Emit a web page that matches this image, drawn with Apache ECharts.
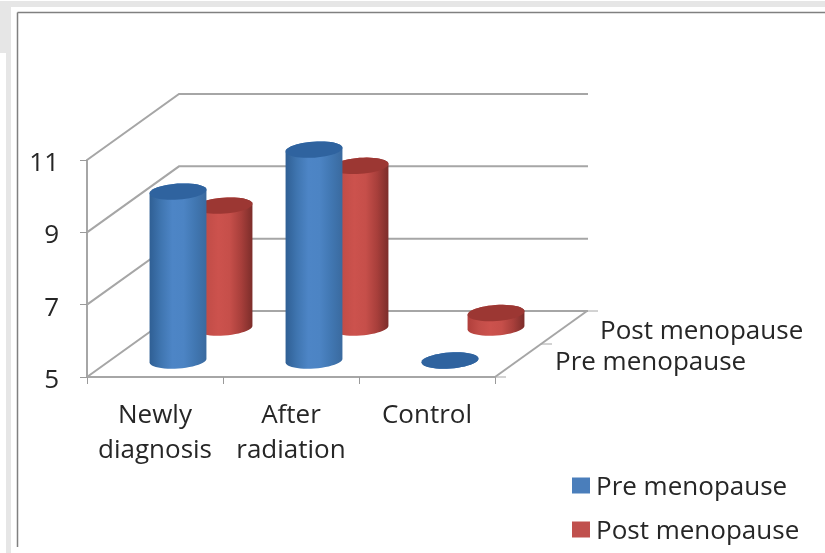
<!DOCTYPE html>
<html><head><meta charset="utf-8">
<style>html,body{margin:0;padding:0;background:#fff}#c{width:825px;height:553px}</style>
<script src="https://cdn.jsdelivr.net/npm/echarts@6/dist/echarts.min.js"></script>
</head><body><div id="c"></div>
<script>
const categories = ['Newly\ndiagnosis', 'After\nradiation', 'Control'];
const preMenopause = [9.67, 10.83, 5.0];
const postMenopause = [8.37, 9.47, 5.4];
const valueTicks = [5, 7, 9, 11];
const seriesNames = ['Pre menopause', 'Post menopause'];

const FONT = '"Open Sans"';
const TEXT = '#262626';
const DX = 92, DY = -66;
const RA = 28.5, RB = 8, TILT = -4 * Math.PI / 180;

function ell(cx, cy, t) {
  return [cx + RA * Math.cos(t) * Math.cos(TILT) - RB * Math.sin(t) * Math.sin(TILT),
          cy + RA * Math.cos(t) * Math.sin(TILT) + RB * Math.sin(t) * Math.cos(TILT)];
}
function cyl(params, api, depth, side, top) {
  const i = api.value(0), v = api.value(1);
  const cT = api.coord([i, v]), cB = api.coord([i, 5]);
  const ox = DX * depth, oy = DY * depth;
  const cx = cT[0] + ox, yT = cT[1] + oy, yB = cB[1] + oy;
  const pts = [];
  for (let k = 0; k <= 24; k++) pts.push(ell(cx, yB, Math.PI * k / 24));
  for (let k = 0; k <= 24; k++) pts.push(ell(cx, yT, Math.PI + Math.PI * k / 24));
  const grad = new echarts.graphic.LinearGradient(0, 0, 1, 0, side.map((c, n) => ({ offset: n / (side.length - 1), color: c })));
  const topPts = [];
  for (let k = 0; k < 48; k++) topPts.push(ell(cx, yT, Math.PI * 2 * k / 48));
  return { type: 'group', children: [
    { type: 'polygon', shape: { points: pts }, style: { fill: grad } },
    { type: 'polygon', shape: { points: topPts }, style: { fill: top } }
  ]};
}
const BLUE = ['#2f5f94', '#3f75b0', '#4d85c6', '#4c84c4', '#4177b2', '#3a6a9f'];
const RED = ['#b03f3b', '#c24d48', '#cc524d', '#c64f4a', '#a83f3b', '#7c2d2a'];

const wallData = valueTicks.map(v => [v]);

const option = {
  animation: false,
  backgroundColor: '#fff',
  grid: { left: 87, top: 160, width: 408, height: 217 },
  xAxis: { type: 'category', data: categories, boundaryGap: true,
    axisLine: { lineStyle: { color: '#a6a6a6', width: 2 } },
    axisTick: { show: true, alignWithLabel: false, length: 7, lineStyle: { color: '#9a9a9a', width: 1 } },
    axisLabel: { fontFamily: FONT, fontSize: 26, color: TEXT, lineHeight: 35, margin: 21, interval: 0 } },
  yAxis: { type: 'value', min: 5, max: 11, interval: 2,
    axisLine: { show: true, lineStyle: { color: '#a6a6a6', width: 2 } },
    axisTick: { show: true, length: 7, lineStyle: { color: '#9a9a9a', width: 1 } },
    splitLine: { show: false },
    axisLabel: { fontFamily: FONT, fontSize: 26, color: TEXT, margin: 28, verticalAlign: 'top', lineHeight: 7 } },
  legend: { orient: 'vertical', left: 567, top: 470, itemWidth: 18, itemHeight: 16, itemGap: 18,
    icon: 'rect', data: seriesNames, formatter: name => '{a|' + name + '}',
    textStyle: { color: TEXT, rich: { a: { fontFamily: FONT, fontSize: 26, color: TEXT, padding: [5, 0, 0, 1] } } } },
  series: [
    { type: 'custom', silent: true, z: 1, data: wallData, encode: { y: 0 }, renderItem(p, api) {
        const v = api.value(0);
        const a = api.coord([0, v]); const x0 = 87;
        const x1 = 495;
        const back = [x0 + DX, a[1] + DY];
        return { type: 'polyline', shape: { points: [[x0, a[1]], back, [x1 + DX + 1, a[1] + DY]] },
          style: { stroke: '#a6a6a6', lineWidth: 2, fill: null } };
      } },
    { type: 'custom', silent: true, z: 1, data: [[0]], encode: { y: 0 }, renderItem(p, api) {
        const a = api.coord([0, 5]);
        const y = a[1];
        const x1 = 495;
        return { type: 'group', children: [
          { type: 'line', shape: { x1: x1, y1: y, x2: x1 + DX, y2: y + DY }, style: { stroke: '#a6a6a6', lineWidth: 2 } },
          { type: 'line', shape: { x1: x1, y1: y, x2: x1 + 11, y2: y }, style: { stroke: '#a6a6a6', lineWidth: 1 } },
          { type: 'line', shape: { x1: x1 + DX / 2, y1: y + DY / 2, x2: x1 + DX / 2 + 11, y2: y + DY / 2 }, style: { stroke: '#a6a6a6', lineWidth: 1 } },
          { type: 'line', shape: { x1: x1 + DX, y1: y + DY, x2: x1 + DX + 11, y2: y + DY }, style: { stroke: '#a6a6a6', lineWidth: 1 } },
          { type: 'text', style: { x: 555, y: 363, text: seriesNames[0], font: '26px ' + FONT, fill: TEXT, verticalAlign: 'middle' } },
          { type: 'text', style: { x: 600, y: 332, text: seriesNames[1], font: '26px ' + FONT, fill: TEXT, verticalAlign: 'middle' } }
        ]};
      } },
    { name: seriesNames[1], type: 'custom', z: 2, itemStyle: { color: '#c0504d' },
      data: postMenopause.map((v, i) => [i, v]), encode: { x: 0, y: 1 },
      renderItem: (p, api) => cyl(p, api, 0.75, RED, '#9c3733') },
    { name: seriesNames[0], type: 'custom', z: 3, itemStyle: { color: '#4a7ebb' },
      data: preMenopause.map((v, i) => [i, v]), encode: { x: 0, y: 1 },
      renderItem: (p, api) => cyl(p, api, 0.25, BLUE, '#2f639f') }
  ],
  graphic: [
    { type: 'rect', z: 10, shape: { x: 0, y: 1, width: 825, height: 6 }, style: { fill: '#e6e6e6' } },
    { type: 'rect', z: 10, shape: { x: 0, y: 7, width: 11, height: 46 }, style: { fill: '#e6e6e6' } },
    { type: 'rect', z: 10, shape: { x: 6, y: 53, width: 5, height: 500 }, style: { fill: '#e6e6e6' } },
    { type: 'line', z: 10, shape: { x1: 17.5, y1: 12.5, x2: 825, y2: 12.5 }, style: { stroke: '#808080', lineWidth: 1.5 } },
    { type: 'line', z: 10, shape: { x1: 17.5, y1: 12.5, x2: 17.5, y2: 547 }, style: { stroke: '#808080', lineWidth: 1.5 } }
  ]
};
const chart = echarts.init(document.getElementById('c'), null, { renderer: 'canvas' });
chart.setOption(option);
</script></body></html>
